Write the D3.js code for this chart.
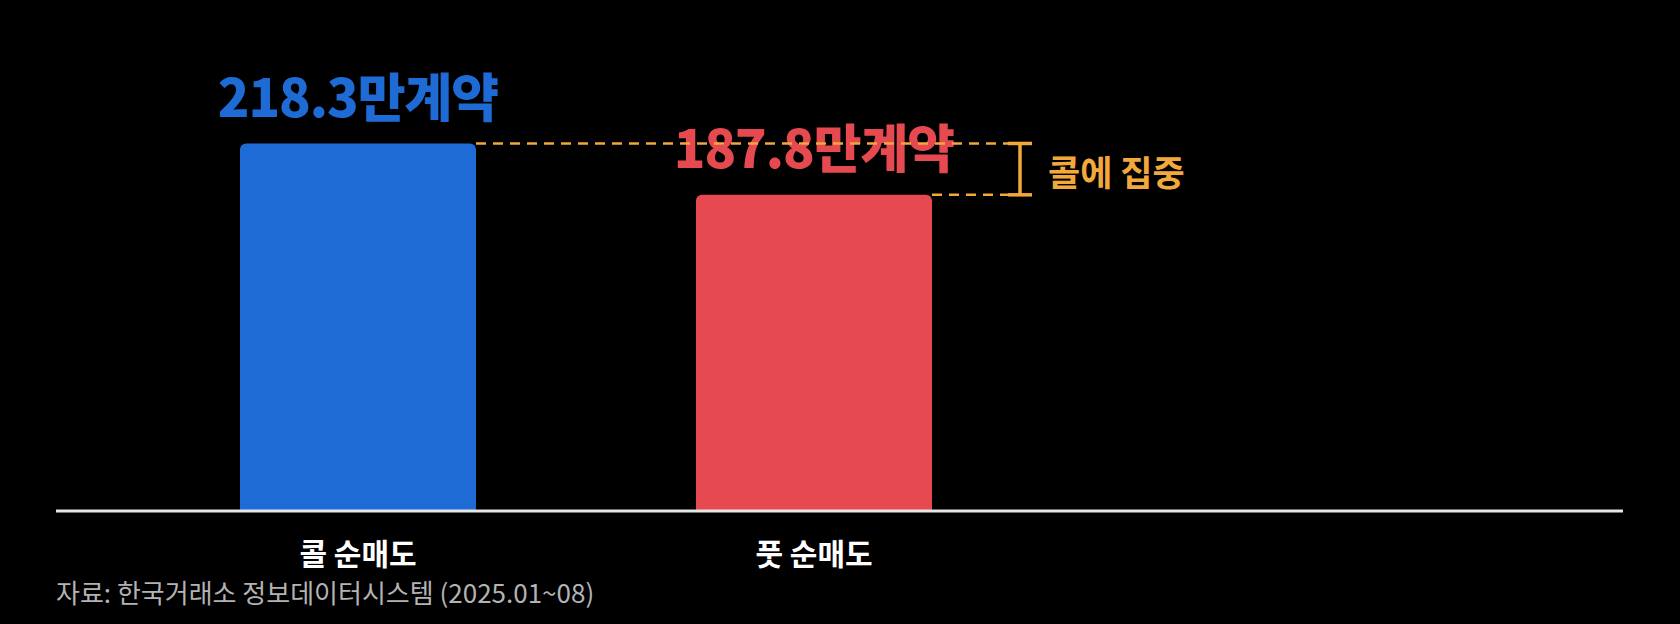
<!DOCTYPE html>
<html>
<head>
<meta charset="utf-8">
<script src="https://cdn.jsdelivr.net/npm/d3@7"></script>
<style>
  html, body { margin: 0; padding: 0; background: #000; }
  svg { display: block; font-family: "Noto Sans CJK KR", "Noto Sans", sans-serif; }
</style>
</head>
<body>
<div id="chart"></div>
<script>
// data
var categories = ["콜 순매도", "풋 순매도"];
var values = [218.3, 187.8];
var valueLabels = ["218.3만계약", "187.8만계약"];
var colors = ["#1f6bd6", "#e64a50"];
var gapLabel = "콜에 집중";
var sourceText = "자료: 한국거래소 정보데이터시스템 (2025.01~08)";

var width = 1680, height = 624;
var baseY = 511;

var svg = d3.select("#chart")
            .append("svg")
            .attr("width", width)
            .attr("height", height);

svg.append("rect")
   .attr("width", width)
   .attr("height", height)
   .attr("fill", "#000");

var x = d3.scaleBand()
          .domain(categories)
          .range([240, 932])
          .paddingInner(220 / 456)
          .paddingOuter(0);

var y = d3.scaleLinear()
          .domain([0, 250])
          .range([baseY, baseY - 420.9]);

// bars
svg.selectAll(".bar")
   .data(values)
   .enter()
   .append("rect")
     .classed("bar", true)
     .attr("x", function(d, i) { return x(categories[i]); })
     .attr("y", function(d) { return y(d); })
     .attr("width", x.bandwidth())
     .attr("height", function(d) { return y(0) - y(d) + 4; })
     .attr("rx", 6)
     .attr("fill", function(d, i) { return colors[i]; });

// cover the bottom of the bars below the axis
svg.append("rect")
   .attr("x", 0).attr("y", baseY + 1)
   .attr("width", width).attr("height", 10)
   .attr("fill", "#000");

// baseline
svg.append("line")
   .attr("x1", 56).attr("x2", 1623)
   .attr("y1", baseY).attr("y2", baseY)
   .attr("stroke", "#e6e6e6")
   .attr("stroke-width", 3);

// value labels
svg.selectAll(".value-label")
   .data(values)
   .enter()
   .append("text")
     .classed("value-label", true)
     .attr("x", function(d, i) { return x(categories[i]) + x.bandwidth() / 2; })
     .attr("y", function(d) { return y(d) - 26.5; })
     .attr("text-anchor", "middle")
     .style("font-size", "52px")
     .style("font-weight", 900)
     .style("letter-spacing", "-1px")
     .style("fill", function(d, i) { return colors[i]; })
     .text(function(d, i) { return valueLabels[i]; });

// category labels
svg.selectAll(".cat-label")
   .data(categories)
   .enter()
   .append("text")
     .classed("cat-label", true)
     .attr("x", function(d) { return x(d) + x.bandwidth() / 2; })
     .attr("y", 565)
     .attr("text-anchor", "middle")
     .style("font-size", "30px")
     .style("font-weight", 700)
     .style("fill", "#fff")
     .text(function(d) { return d; });

// dashed guide lines + bracket
var bracketX = 1020;
var orange = "#f2a83b";
var yTop = y(values[0]), yBot = y(values[1]);

svg.append("line")
   .attr("x1", x(categories[0]) + x.bandwidth()).attr("x2", bracketX - 12)
   .attr("y1", yTop).attr("y2", yTop)
   .attr("stroke", orange).attr("stroke-width", 2.5)
   .attr("stroke-dasharray", "10,7");

svg.append("line")
   .attr("x1", x(categories[1]) + x.bandwidth()).attr("x2", bracketX - 12)
   .attr("y1", yBot).attr("y2", yBot)
   .attr("stroke", orange).attr("stroke-width", 2.5)
   .attr("stroke-dasharray", "10,7");

var bracket = svg.append("g").attr("stroke", orange).attr("stroke-width", 3.5);
bracket.append("line").attr("x1", bracketX).attr("x2", bracketX).attr("y1", yTop).attr("y2", yBot);
bracket.append("line").attr("x1", bracketX - 12).attr("x2", bracketX + 12).attr("y1", yTop).attr("y2", yTop);
bracket.append("line").attr("x1", bracketX - 12).attr("x2", bracketX + 12).attr("y1", yBot).attr("y2", yBot);

svg.append("text")
   .attr("x", 1048)
   .attr("y", (yTop + yBot) / 2 + 1)
   .attr("dominant-baseline", "central")
   .style("font-size", "35px")
   .style("font-weight", 700)
   .style("fill", orange)
   .text(gapLabel);

// source
svg.append("text")
   .attr("x", 56)
   .attr("y", 603)
   .style("font-size", "26px")
   .style("fill", "#b3b3b3")
   .text(sourceText);
</script>
</body>
</html>
